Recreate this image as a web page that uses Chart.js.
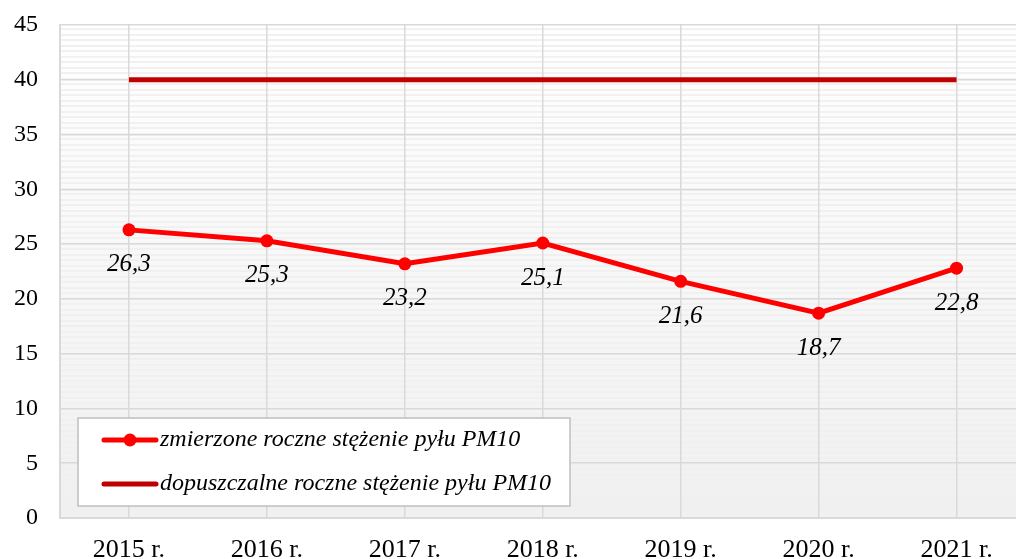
<!DOCTYPE html>
<html>
<head>
<meta charset="utf-8">
<script src="https://cdn.jsdelivr.net/npm/chart.js@4"></script>
<style>
  html, body {margin: 0; padding: 0; overflow: hidden; background: #fff;}
  canvas {display: block;}
</style>
</head>
<body>
<canvas id="pm10Chart" width="1032" height="559"></canvas>
<script>
const years = ['2015 r.', '2016 r.', '2017 r.', '2018 r.', '2019 r.', '2020 r.', '2021 r.'],
      measured = [26.3, 25.3, 23.2, 25.1, 21.6, 18.7, 22.8],
      allowed = [40, 40, 40, 40, 40, 40, 40],
      seriesNames = ['zmierzone roczne stężenie pyłu PM10', 'dopuszczalne roczne stężenie pyłu PM10'];

const serif = '"Liberation Serif", "DejaVu Serif", serif';

// tło obszaru wykresu: paski przechodzące w jednolity szary
const backgroundPlugin = {
    id: 'stripedBg',
    beforeDraw(chart) {
        const {ctx, chartArea: a} = chart;
        ctx.save();
        const g = ctx.createLinearGradient(0, a.top, 0, a.bottom);
        g.addColorStop(0, '#ffffff');
        g.addColorStop(1, '#f0f0f0');
        ctx.fillStyle = g;
        ctx.fillRect(a.left, a.top, a.right - a.left, a.bottom - a.top);
        for (let y = a.top + 3; y < a.bottom; y += 5.5) {
            const t = (y - a.top) / (a.bottom - a.top);
            ctx.fillStyle = 'rgba(0,0,0,' + (0.055 * (1 - t)).toFixed(3) + ')';
            ctx.fillRect(a.left, Math.round(y), a.right - a.left, 2);
        }
        ctx.restore();
    }
};

const labelsPlugin = {
    id: 'valueLabels',
    afterDatasetsDraw(chart) {
        const ctx = chart.ctx,
              meta = chart.getDatasetMeta(0);
        ctx.save();
        ctx.font = 'italic 25px ' + serif;
        ctx.fillStyle = '#000';
        ctx.textAlign = 'center';
        ctx.textBaseline = 'middle';
        meta.data.forEach((pt, i) => {
            ctx.fillText(measured[i].toFixed(1).replace('.', ','), pt.x, pt.y + 35);
        });
        ctx.restore();
    }
};

const legendPlugin = {
    id: 'boxLegend',
    afterDraw(chart) {
        const ctx = chart.ctx;
        ctx.save();
        ctx.fillStyle = '#fff';
        ctx.fillRect(78, 418, 492, 88);
        ctx.strokeStyle = '#bfbfbf';
        ctx.lineWidth = 1.5;
        ctx.strokeRect(78, 418, 492, 88);

        const rows = [440, 484],
              colors = ['#ff0000', '#c00000'];
        rows.forEach((y, i) => {
            ctx.strokeStyle = colors[i];
            ctx.lineWidth = 5;
            ctx.lineCap = 'round';
            ctx.beginPath();
            ctx.moveTo(104, y);
            ctx.lineTo(156, y);
            ctx.stroke();
            if (i === 0) {
                ctx.fillStyle = colors[i];
                ctx.beginPath();
                ctx.arc(130, y, 6.5, 0, Math.PI * 2);
                ctx.fill();
            }
            ctx.fillStyle = '#000';
            ctx.font = 'italic 24px ' + serif;
            ctx.textAlign = 'left';
            ctx.textBaseline = 'middle';
            ctx.fillText(seriesNames[i], 160, y);
        });
        ctx.restore();
    }
};

const ctx = document.getElementById('pm10Chart').getContext('2d');

new Chart(ctx, {
    type: 'line',
    data: {
        labels: years,
        datasets: [
            {
                label: seriesNames[0],
                data: measured,
                borderColor: '#ff0000',
                backgroundColor: '#ff0000',
                borderWidth: 5,
                pointRadius: 6.5,
                pointHoverRadius: 6.5,
                pointBackgroundColor: '#ff0000',
                pointBorderWidth: 0,
                tension: 0,
                order: 0
            },
            {
                label: seriesNames[1],
                data: allowed,
                borderColor: '#c00000',
                backgroundColor: '#c00000',
                borderWidth: 5,
                pointRadius: 0,
                tension: 0,
                order: 1
            }
        ]
    },
    options: {
        responsive: false,
        animation: false,
        layout: {padding: {top: 25, right: 0, left: 0, bottom: 0}},
        plugins: {
            legend: {display: false},
            tooltip: {enabled: false}
        },
        scales: {
            x: {
                offset: true,
                grid: {
                    offset: false,
                    color: '#d9d9d9',
                    lineWidth: 1.5,
                    drawTicks: false
                },
                border: {color: '#d9d9d9', width: 2},
                ticks: {
                    color: '#000',
                    font: {family: serif, size: 26},
                    padding: 17,
                    maxRotation: 0
                },
                afterFit(scale) { scale.height = 41; scale.paddingLeft = 0; scale.paddingRight = 0; }
            },
            y: {
                min: 0,
                max: 45,
                grid: {
                    color: '#d9d9d9',
                    lineWidth: 1.5,
                    drawTicks: false
                },
                border: {color: '#d9d9d9', width: 2},
                ticks: {
                    stepSize: 5,
                    color: '#000',
                    font: {family: serif, size: 24},
                    padding: 22
                },
                afterFit(scale) { scale.width = 60; scale.paddingTop = 0; scale.paddingBottom = 0; }
            }
        }
    },
    plugins: [backgroundPlugin, labelsPlugin, legendPlugin]
});
</script>
</body>
</html>
